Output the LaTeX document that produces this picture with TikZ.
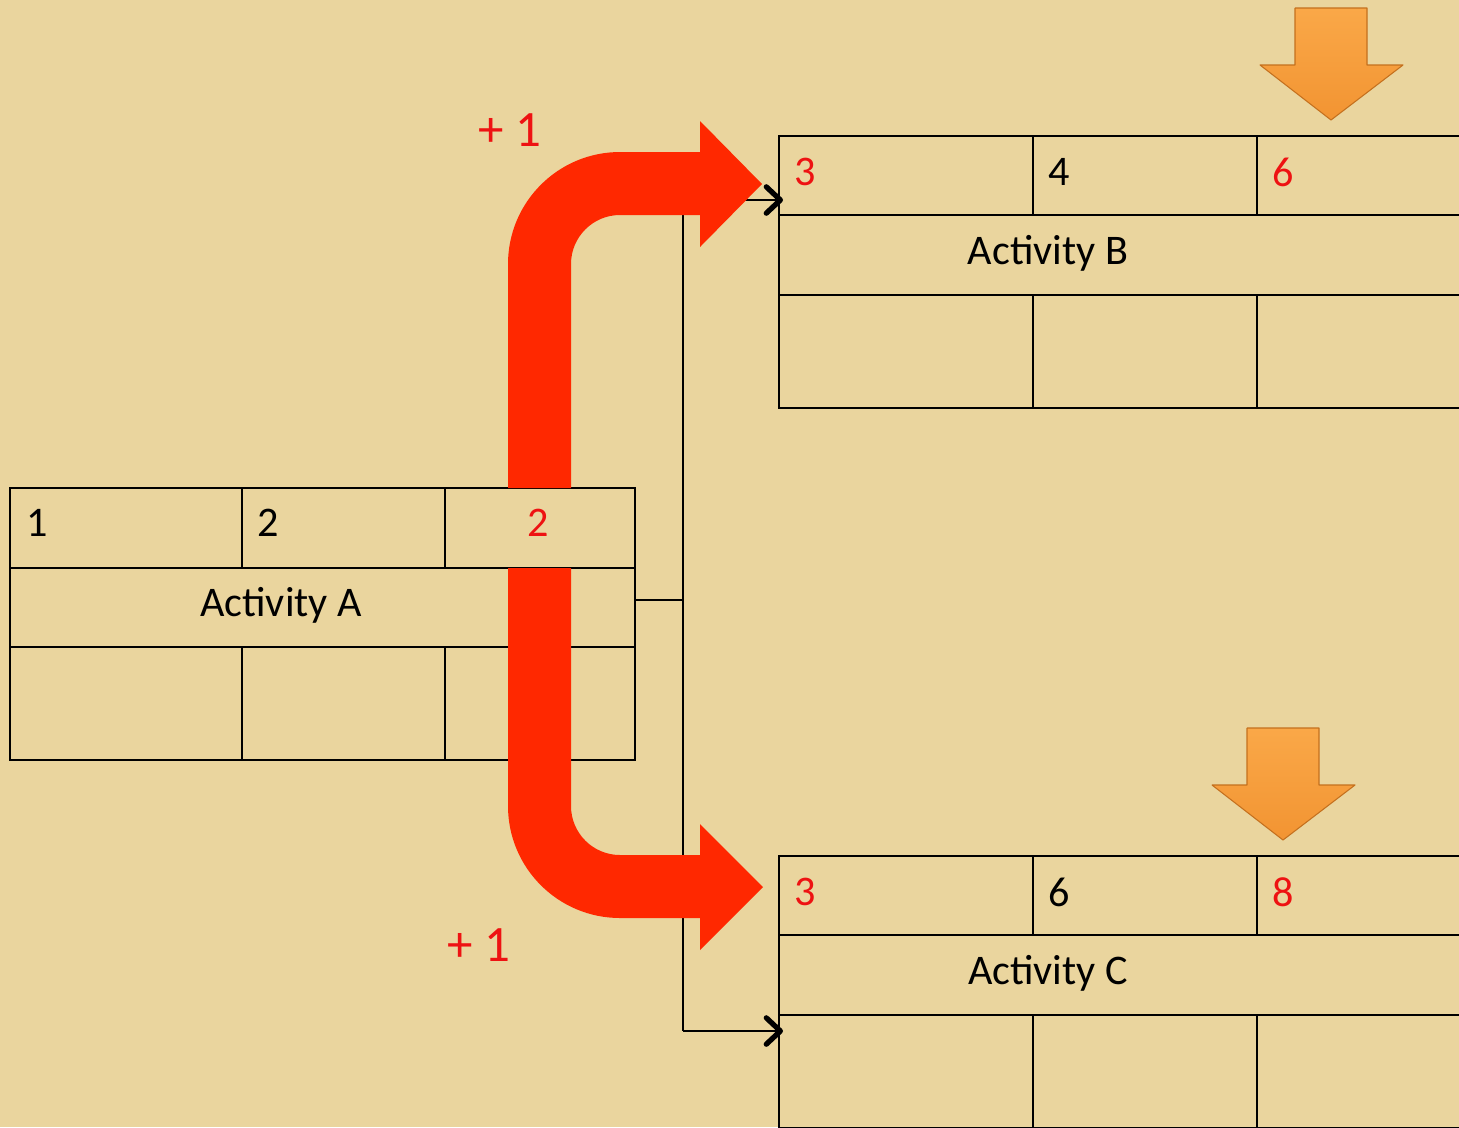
\documentclass[tikz,border=0pt]{standalone}
\usepackage{fontspec}
\setmainfont{Carlito}
\usetikzlibrary{arrows.meta, positioning, calc}
\definecolor{parchment}{RGB}{234,213,158}
\definecolor{myred}{RGB}{255,40,0}
\definecolor{txtred}{RGB}{238,18,18}
\definecolor{orangetop}{RGB}{250,168,72}
\definecolor{orangebot}{RGB}{242,148,50}
\definecolor{orangeedge}{RGB}{196,112,30}
\tikzset{
  cellline/.style={line width=1.3pt, color=black},
  num/.style={anchor=west, inner sep=0pt, font=\fontsize{24}{28}\selectfont},
  rednum/.style={num, text=txtred},
  actlabel/.style={inner sep=0pt, font=\fontsize{24}{28}\selectfont},
  plusone/.style={inner sep=0pt, text=txtred, font=\fontsize{29}{33}\selectfont},
  linkline/.style={line width=1.2pt, color=black},
  linkarrow/.style={linkline, -{Straight Barb[length=8pt, width=15pt, line width=3pt, round]}},
  bigarrow/.style={fill=myred, draw=none},
  downarrow/.style={top color=orangetop, bottom color=orangebot,
    draw=orangeedge, line width=0.6pt, line join=round}
}
\begin{document}
\begin{tikzpicture}[x=0.02cm, y=-0.02cm]
  % Page
  \useasboundingbox (0,0) rectangle (1459,1127);
  \clip (0,0) rectangle (1459,1127);
  \fill[parchment] (0,0) rectangle (1459,1127);

  % Activity A
  \draw[cellline] (10,488) rectangle (635,760);
  \draw[cellline] (10,568) -- (635,568);
  \draw[cellline] (10,647) -- (635,647);
  \draw[cellline] (242,488) -- (242,568) (445,488) -- (445,568);
  \draw[cellline] (242,647) -- (242,760) (445,647) -- (445,760);
  \node[num] (aes) at (26,523) {1};
  \node[num] (adur) at (257,523) {2};
  \node[rednum] (aef) at (527,523) {2};
  \node[actlabel] (actA) at (281,605) {Activity A};
  \coordinate (aout) at (635,600);

  % Activities B and C
  \foreach \y/\lbl/\du/\ef in {136/B/4/6, 856/C/6/8} {
    \draw[cellline] (779,\y) rectangle (1466,\y+272);
    \draw[cellline] (779,\y+79) -- (1466,\y+79);
    \draw[cellline] (779,\y+159) -- (1466,\y+159);
    \draw[cellline] (1033,\y) -- (1033,\y+79) (1257,\y) -- (1257,\y+79);
    \draw[cellline] (1033,\y+159) -- (1033,\y+272) (1257,\y+159) -- (1257,\y+272);
    \node[rednum] (es\lbl) at (794,\y+36) {3};
    \node[num] (dur\lbl) at (1048,\y+36) {\du};
    \node[rednum] (ef\lbl) at (1272,\y+36) {\ef};
    \node[actlabel] (act\lbl) at (1048,\y+117) {Activity \lbl};
  }
  \coordinate (bin) at (783,200);
  \coordinate (cin) at (783,1031);

  % Links from A to B and C
  \coordinate (split) at (683,600);
  \draw[linkline] (aout) -- (split);
  \draw[linkline] (split |- bin) -- (split |- cin);
  \draw[linkarrow] (split |- bin) -- (bin);
  \draw[linkarrow] (split |- cin) -- (cin);

  % Red bent arrows
  \fill[bigarrow] (508,488) -- (508,264) arc[start angle=180, end angle=270, radius=112]
    -- (700,152) -- (700,121) -- (762,184) -- (700,247) -- (700,215) -- (620,215)
    arc[start angle=270, end angle=180, radius=49] -- (571,488) -- cycle;
  \fill[bigarrow] (508,568) -- (508,806) arc[start angle=180, end angle=90, radius=112]
    -- (700,918) -- (700,950) -- (763,887) -- (700,824) -- (700,855) -- (620,855)
    arc[start angle=90, end angle=180, radius=49] -- (571,568) -- cycle;
  \node[plusone] (plusB) at (510,130) {+ 1};
  \node[plusone] (plusC) at (479,945) {+ 1};

  % Orange markers
  \foreach \dx/\dy in {0/0, -48/720} {
    \draw[downarrow] (1295+\dx,8+\dy) -- (1367+\dx,8+\dy) -- (1367+\dx,65+\dy)
      -- (1403+\dx,65+\dy) -- (1331+\dx,120+\dy) -- (1260+\dx,65+\dy)
      -- (1295+\dx,65+\dy) -- cycle;
  }
\end{tikzpicture}
\end{document}
